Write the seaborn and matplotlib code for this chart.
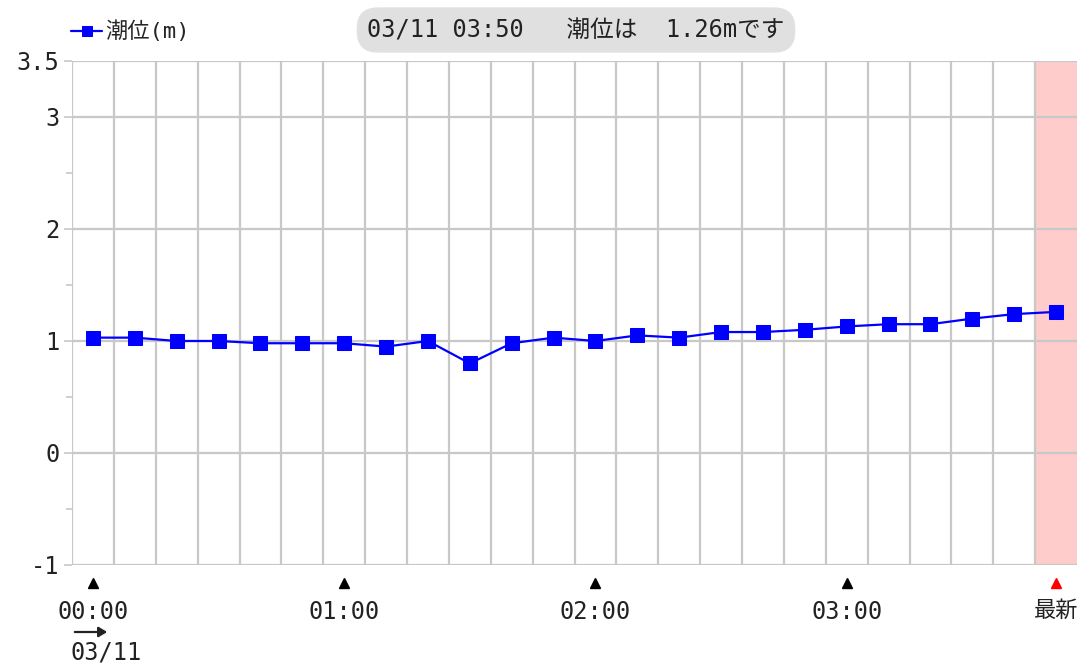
import numpy as np
import pandas as pd
import seaborn as sns
import matplotlib.pyplot as plt
import matplotlib.transforms as mtransforms

# tide level readings, 10 minute steps on 03/11
times = ["00:00", "00:10", "00:20", "00:30", "00:40", "00:50",
         "01:00", "01:10", "01:20", "01:30", "01:40", "01:50",
         "02:00", "02:10", "02:20", "02:30", "02:40", "02:50",
         "03:00", "03:10", "03:20", "03:30", "03:40", "03:50"]
tide = [1.03, 1.03, 1.00, 1.00, 0.98, 0.98,
        0.98, 0.95, 1.00, 0.80, 0.98, 1.03,
        1.00, 1.05, 1.03, 1.08, 1.08, 1.10,
        1.13, 1.15, 1.15, 1.20, 1.24, 1.26]
tick_labels = ["00:00", "01:00", "02:00", "03:00", "最新"]
tick_times = ["00:00", "01:00", "02:00", "03:00", "03:50"]
yticks_major = [-1, 0, 1, 2, 3, 3.5]
yticks_minor = [-0.5, 0.5, 1.5, 2.5]

sns.set_theme(style="white")
plt.rcParams['font.family'] = ['DejaVu Sans Mono', 'Noto Sans CJK JP']

df = pd.DataFrame({"idx": range(len(times)), "time": times, "tide": tide})

W, H = 1077, 663
fig = plt.figure(figsize=(W / 100, H / 100), dpi=100)
ax = fig.add_axes([72 / W, 1 - 565 / H, 1 - 72 / W, (565 - 61) / H])

grid_c = "#c8c8c8"
txt_c = "#222222"
ax.set_xlim(-0.5, len(times) - 0.5)
ax.set_ylim(-1, 3.5)

# latest reading cell
ax.axvspan(len(times) - 1.5, len(times) - 0.5, color="#ffcccc", zorder=0, lw=0)

for k in range(len(times)):
    ax.axvline(k - 0.5, color=grid_c, lw=1.6, zorder=1)
for v in yticks_major:
    ax.axhline(v, color=grid_c, lw=1.6, zorder=1)

sns.lineplot(data=df, x="idx", y="tide", ax=ax, color="#0000ff", lw=1.6,
             marker="s", markersize=9.5, markeredgecolor="#0000ff",
             label="潮位(m)", zorder=3)

ax.set_yticks(yticks_major)
ax.set_yticklabels(["-1", "0", "1", "2", "3", "3.5"])
ax.set_yticks(yticks_minor, minor=True)
ax.tick_params(axis="y", which="both", left=True, length=6, width=1.2,
               color=grid_c, labelsize=17, labelcolor=txt_c, pad=3)
ax.tick_params(axis="y", which="minor", length=4)

tick_pos = [times.index(t) for t in tick_times]
ax.set_xticks(tick_pos)
ax.set_xticklabels(tick_labels)
ax.tick_params(axis="x", bottom=False, labelsize=17, labelcolor=txt_c, pad=19)
ax.get_xticklabels()[-1].set_fontsize(16)
ax.set_xlabel("")
ax.set_ylabel("")
for s in ax.spines.values():
    s.set_visible(False)

# triangle markers under the x axis
trans = mtransforms.blended_transform_factory(ax.transData, ax.transAxes)
tri_colors = ["black"] * (len(tick_pos) - 1) + ["red"]
for p, c in zip(tick_pos, tri_colors):
    ax.plot(p, -0.035, marker="^", color=c, markersize=7, transform=trans, clip_on=False)

# date under first tick, with a small arrow
fig.add_artist(plt.matplotlib.patches.FancyArrowPatch(
    (72 / W, 1 - 632 / H), (110 / W, 1 - 632 / H), transform=fig.transFigure,
    arrowstyle="-|>,head_length=5,head_width=3", color=txt_c, lw=1.6))
fig.text(70 / W, 1 - 652 / H, "03/11", ha="left", va="center",
         fontsize=17, color=txt_c)

leg = ax.legend(loc="lower left", bbox_to_anchor=(-0.012, 1.015), frameon=False,
                fontsize=16, handlelength=1.4, handletextpad=0.15, borderaxespad=0.3,
                borderpad=0.2)
for h in leg.legend_handles:
    h.set_markersize(7)

fig.text(576 / W, 1 - 30 / H, "03/11 03:50   潮位は  1.26mです", ha="center", va="center",
         fontsize=17, color=txt_c,
         bbox=dict(boxstyle="round,pad=0.45,rounding_size=0.9", fc="#e0e0e0", ec="none"))

fig.savefig("out.png", dpi=100)
